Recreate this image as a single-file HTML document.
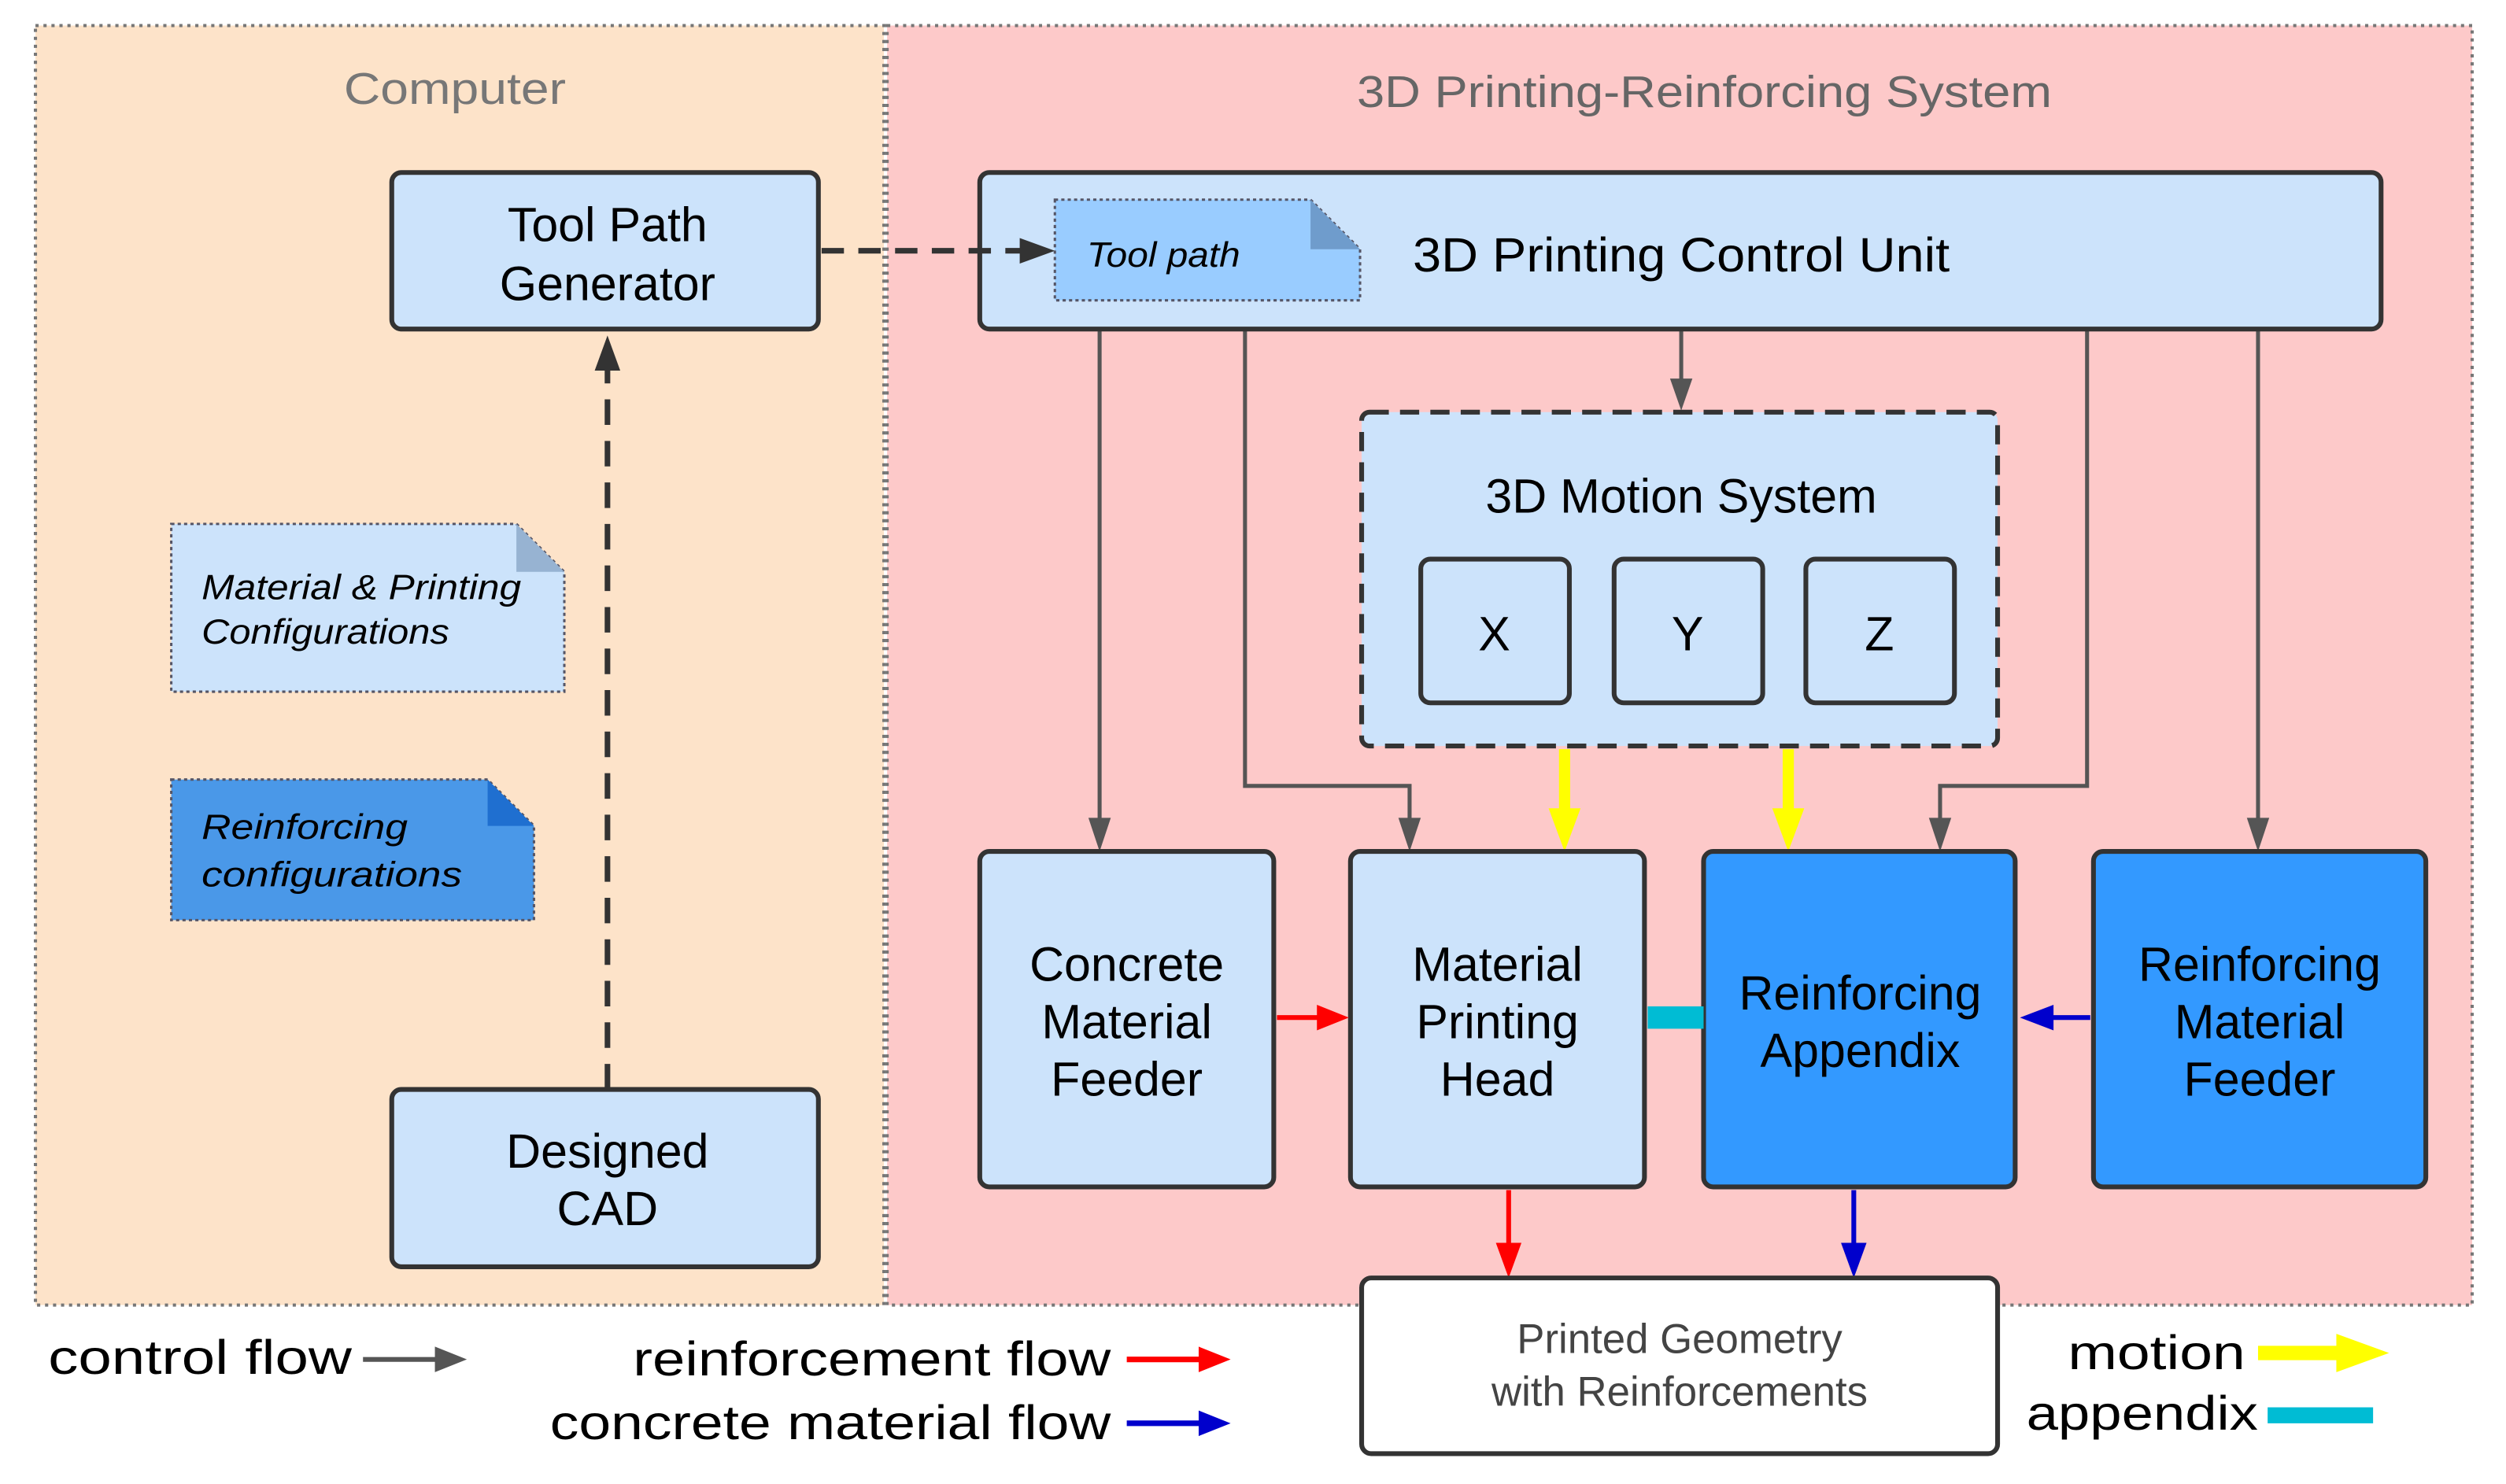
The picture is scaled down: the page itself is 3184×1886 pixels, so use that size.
<!DOCTYPE html>
<html><head><meta charset="utf-8"><style>
html,body{margin:0;padding:0;background:#fff;}
svg{display:block;}
text{font-family:"Liberation Sans",sans-serif;}
</style></head><body>
<svg width="3184" height="1886" viewBox="0 0 1568 929" xmlns="http://www.w3.org/2000/svg">
<rect x="22" y="16" width="531" height="801" fill="#fde3c9" stroke="#777" stroke-width="2" stroke-dasharray="2,3"/>
<rect x="555" y="16" width="992" height="801" fill="#fdc9c9" stroke="#777" stroke-width="2" stroke-dasharray="2,3"/>
<text x="215" y="65" font-size="28" fill="#777" textLength="139" lengthAdjust="spacingAndGlyphs">Computer</text>
<text x="849" y="67" font-size="28" fill="#666" textLength="435" lengthAdjust="spacingAndGlyphs">3D Printing-Reinforcing System</text>

<g stroke="#555" stroke-width="2.5" fill="none">
<path d="M688,206 V518"/>
<path d="M779,206 V492 H882 V518"/>
<path d="M1306,206 V492 H1214 V518"/>
<path d="M1413,206 V518"/>
<path d="M1052,206 V242"/>
</g>
<g fill="#555">
<path d="M681,512 L695,512 L688,533z"/>
<path d="M875,512 L889,512 L882,533z"/>
<path d="M1207,512 L1221,512 L1214,533z"/>
<path d="M1406,512 L1420,512 L1413,533z"/>
<path d="M1045,237 L1059,237 L1052,257z"/>
</g>

<rect x="245" y="108" width="267" height="98" rx="6" fill="#cce3fb" stroke="#333" stroke-width="3"/>
<text x="380" y="151" font-size="30" text-anchor="middle">Tool Path</text>
<text x="380" y="188" font-size="30" text-anchor="middle">Generator</text>

<rect x="613" y="108" width="877" height="98" rx="6" fill="#cce3fb" stroke="#333" stroke-width="3"/>
<text x="884" y="170" font-size="30" textLength="336" lengthAdjust="spacingAndGlyphs">3D Printing Control Unit</text>
<path d="M660,125 H820 L851,156 V188 H660z" fill="#99ccff" stroke="#556" stroke-width="1.5" stroke-dasharray="2,2"/>
<path d="M820,125 L851,156 H820z" fill="#6f9ccc"/>
<text x="680" y="167" font-size="22" font-style="italic" textLength="96" lengthAdjust="spacingAndGlyphs">Tool path</text>

<path d="M514,157 H640" stroke="#333" stroke-width="3.5" stroke-dasharray="14,9" fill="none"/>
<path d="M638,149 L660,157 L638,165z" fill="#333"/>
<path d="M380,682 V232" stroke="#333" stroke-width="3.5" stroke-dasharray="16,10" fill="none"/>
<path d="M372,232 L380,210 L388,232z" fill="#333"/>

<path d="M107,328 H323 L353,358 V433 H107z" fill="#cce3fb" stroke="#556" stroke-width="1.5" stroke-dasharray="2,2"/>
<path d="M323,328 L353,358 H323z" fill="#97b3d2"/>
<text x="126" y="375" font-size="22" font-style="italic" textLength="200" lengthAdjust="spacingAndGlyphs">Material &amp; Printing</text>
<text x="126" y="403" font-size="22" font-style="italic" textLength="155" lengthAdjust="spacingAndGlyphs">Configurations</text>

<path d="M107,488 H305 L334,517 V576 H107z" fill="#4a98e8" stroke="#556" stroke-width="1.5" stroke-dasharray="2,2"/>
<path d="M305,488 L334,517 H305z" fill="#1f6fd0"/>
<text x="126" y="525" font-size="22" font-style="italic" textLength="129" lengthAdjust="spacingAndGlyphs">Reinforcing</text>
<text x="126" y="555" font-size="22" font-style="italic" textLength="163" lengthAdjust="spacingAndGlyphs">configurations</text>

<rect x="245" y="682" width="267" height="111" rx="6" fill="#cce3fb" stroke="#333" stroke-width="3"/>
<text x="380" y="731" font-size="30" text-anchor="middle">Designed</text>
<text x="380" y="767" font-size="30" text-anchor="middle">CAD</text>

<rect x="852" y="258" width="398" height="209" rx="5" fill="#cce3fb" stroke="#333" stroke-width="3" stroke-dasharray="12,7"/>
<text x="1052" y="321" font-size="30" text-anchor="middle">3D Motion System</text>
<rect x="889" y="350" width="93" height="90" rx="6" fill="#cce3fb" stroke="#333" stroke-width="3"/>
<rect x="1010" y="350" width="93" height="90" rx="6" fill="#cce3fb" stroke="#333" stroke-width="3"/>
<rect x="1130" y="350" width="93" height="90" rx="6" fill="#cce3fb" stroke="#333" stroke-width="3"/>
<text x="935" y="407" font-size="30" text-anchor="middle">X</text>
<text x="1056" y="407" font-size="30" text-anchor="middle">Y</text>
<text x="1176" y="407" font-size="30" text-anchor="middle">Z</text>

<path d="M979,469 V510" stroke="#ffff00" stroke-width="7"/>
<path d="M969,506 L989,506 L979,533z" fill="#ffff00"/>
<path d="M1119,469 V510" stroke="#ffff00" stroke-width="7"/>
<path d="M1109,506 L1129,506 L1119,533z" fill="#ffff00"/>

<rect x="613" y="533" width="184" height="210" rx="6" fill="#cce3fb" stroke="#333" stroke-width="3"/>
<text x="705" y="614" font-size="30" text-anchor="middle">Concrete</text>
<text x="705" y="650" font-size="30" text-anchor="middle">Material</text>
<text x="705" y="686" font-size="30" text-anchor="middle">Feeder</text>

<rect x="845" y="533" width="184" height="210" rx="6" fill="#cce3fb" stroke="#333" stroke-width="3"/>
<text x="937" y="614" font-size="30" text-anchor="middle">Material</text>
<text x="937" y="650" font-size="30" text-anchor="middle">Printing</text>
<text x="937" y="686" font-size="30" text-anchor="middle">Head</text>

<rect x="1066" y="533" width="195" height="210" rx="6" fill="#3399ff" stroke="#333" stroke-width="3"/>
<text x="1164" y="632" font-size="30" text-anchor="middle">Reinforcing</text>
<text x="1164" y="668" font-size="30" text-anchor="middle">Appendix</text>

<rect x="1310" y="533" width="208" height="210" rx="6" fill="#3399ff" stroke="#333" stroke-width="3"/>
<text x="1414" y="614" font-size="30" text-anchor="middle">Reinforcing</text>
<text x="1414" y="650" font-size="30" text-anchor="middle">Material</text>
<text x="1414" y="686" font-size="30" text-anchor="middle">Feeder</text>

<path d="M799,637 H826" stroke="#ff0000" stroke-width="3"/>
<path d="M824,629 L844,637 L824,645z" fill="#ff0000"/>
<rect x="1031" y="630" width="35" height="14" fill="#00bcd4"/>
<path d="M1308,637 H1283" stroke="#0000cc" stroke-width="3"/>
<path d="M1285,629 L1264,637 L1285,645z" fill="#0000cc"/>

<path d="M944,745 V780" stroke="#ff0000" stroke-width="3"/>
<path d="M936,778 L952,778 L944,800z" fill="#ff0000"/>
<path d="M1160,745 V780" stroke="#0000cc" stroke-width="3"/>
<path d="M1152,778 L1168,778 L1160,800z" fill="#0000cc"/>

<rect x="852" y="800" width="398" height="110" rx="6" fill="#fff" stroke="#333" stroke-width="3"/>
<text x="1051" y="847" font-size="26" fill="#444" text-anchor="middle">Printed Geometry</text>
<text x="1051" y="880" font-size="26" fill="#444" text-anchor="middle">with Reinforcements</text>

<text x="30" y="860" font-size="30" textLength="190" lengthAdjust="spacingAndGlyphs">control flow</text>
<path d="M227,851 H275" stroke="#555" stroke-width="3"/>
<path d="M272,843 L292,851 L272,859z" fill="#555"/>
<text x="396" y="861" font-size="30" textLength="299" lengthAdjust="spacingAndGlyphs">reinforcement flow</text>
<path d="M705,851 H752" stroke="#ff0000" stroke-width="3.5"/>
<path d="M750,843 L770,851 L750,859z" fill="#ff0000"/>
<text x="344" y="901" font-size="30" textLength="351" lengthAdjust="spacingAndGlyphs">concrete material flow</text>
<path d="M705,891 H752" stroke="#0000cc" stroke-width="3.5"/>
<path d="M750,883 L770,891 L750,899z" fill="#0000cc"/>
<text x="1294" y="857" font-size="30" textLength="111" lengthAdjust="spacingAndGlyphs">motion</text>
<path d="M1413,847 H1465" stroke="#ffff00" stroke-width="9"/>
<path d="M1462,835 L1495,847 L1462,859z" fill="#ffff00"/>
<text x="1268" y="895" font-size="30" textLength="145" lengthAdjust="spacingAndGlyphs">appendix</text>
<rect x="1419" y="881" width="66" height="10" fill="#00bcd4"/>
</svg>
</body></html>
